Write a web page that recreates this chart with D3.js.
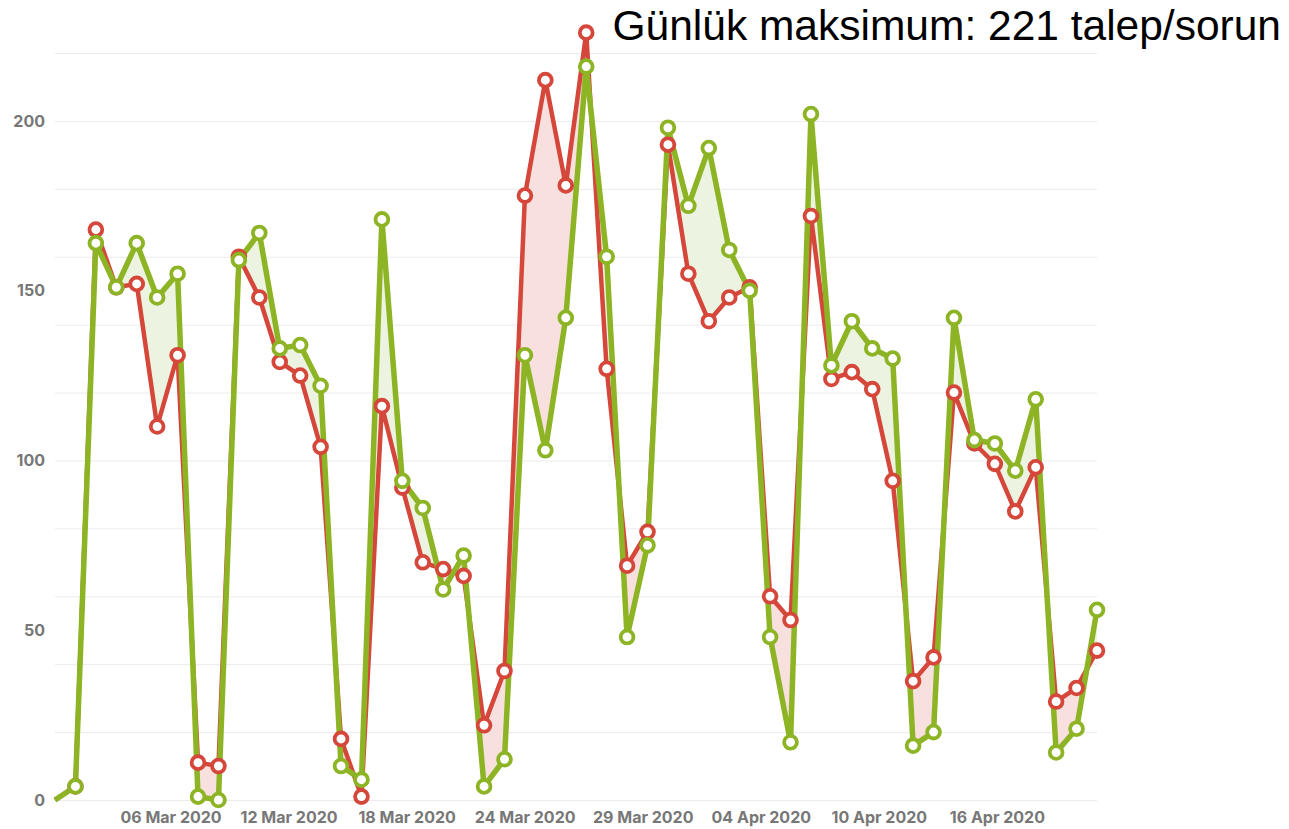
<!DOCTYPE html>
<html>
<head>
<meta charset="utf-8">
<script src="https://cdn.jsdelivr.net/npm/d3@7"></script>
<style>
  body { margin: 0; background: #fff; }
  svg { display: block; }
</style>
</head>
<body>
<svg id="chart" width="1289" height="829"></svg>
<script>
// daily series, 01 Mar 2020 .. 21 Apr 2020
const startDate = "2020-03-01";
const redValues = [0, 4, 168, 151, 152, 110, 131, 11, 10, 160, 148, 129, 125, 104, 18, 1, 116, 92, 70, 68,
  66, 22, 38, 178, 212, 181, 226, 127, 69, 79, 193, 155, 141, 148, 151, 60, 53, 172, 124, 126,
  121, 94, 35, 42, 120, 105, 99, 85, 98, 29, 33, 44];
const greenValues = [0, 4, 164, 151, 164, 148, 155, 1, 0, 159, 167, 133, 134, 122, 10, 6, 171, 94, 86, 62,
  72, 4, 12, 131, 103, 142, 216, 160, 48, 75, 198, 175, 192, 162, 150, 48, 17, 202, 128, 141,
  133, 130, 16, 20, 142, 106, 105, 97, 118, 14, 21, 56];
const xTickLabels = ["06 Mar 2020", "12 Mar 2020", "18 Mar 2020", "24 Mar 2020",
  "29 Mar 2020", "04 Apr 2020", "10 Apr 2020", "16 Apr 2020"];
const yTickLabels = [0, 50, 100, 150, 200];
const yGridValues = [0, 20, 40, 60, 80, 100, 120, 140, 160, 180, 200, 220];
const yMax = 220;
const titleText = "Günlük maksimum: 221 talep/sorun";

const RED = "#d5473a";
const GREEN = "#8db424";

const t0 = new Date(startDate + "T00:00:00Z");
const data = redValues.map((r, i) => ({
  date: d3.utcDay.offset(t0, i),
  red: r,
  green: greenValues[i]
}));

const svg = d3.select("#chart");
const plot = { left: 55, right: 1097, top: 53, bottom: 800 };

const x = d3.scaleUtc()
  .domain(d3.extent(data, d => d.date))
  .range([plot.left, plot.right]);

const y = d3.scaleLinear()
  .domain([0, yMax])
  .range([plot.bottom, plot.top]);

// grid
svg.append("g")
  .selectAll("line")
  .data(yGridValues)
  .enter().append("line")
  .attr("x1", plot.left)
  .attr("x2", plot.right)
  .attr("y1", d => y(d) + 0.5)
  .attr("y2", d => y(d) + 0.5)
  .attr("stroke", "#ebebeb")
  .attr("stroke-width", 1);

// y labels
svg.append("g")
  .selectAll("text")
  .data(yTickLabels)
  .enter().append("text")
  .attr("x", 45)
  .attr("y", d => y(d))
  .attr("dy", "0.36em")
  .attr("text-anchor", "end")
  .attr("font-family", "Inter, 'Liberation Sans', sans-serif")
  .attr("font-weight", 700)
  .attr("font-size", "16px")
  .attr("fill", "#777")
  .text(d => d);

// x labels, spread evenly over the time range like the original
const tickStep = data.length * 864e5 / (xTickLabels.length + 1);
svg.append("g")
  .selectAll("text")
  .data(xTickLabels)
  .enter().append("text")
  .attr("x", (d, k) => x(new Date(+t0 + (k + 1) * tickStep)) - 2)
  .attr("y", 823)
  .attr("text-anchor", "middle")
  .attr("font-family", "Inter, 'Liberation Sans', sans-serif")
  .attr("font-weight", 700)
  .attr("font-size", "16px")
  .attr("fill", "#777")
  .text(d => d);

// difference fill between the two lines
const defs = svg.append("defs");
defs.append("clipPath").attr("id", "clip-above")
  .append("path")
  .attr("d", d3.area().x(d => x(d.date)).y0(0).y1(d => y(d.red))(data));
defs.append("clipPath").attr("id", "clip-below")
  .append("path")
  .attr("d", d3.area().x(d => x(d.date)).y0(829).y1(d => y(d.red))(data));

const between = d3.area()
  .x(d => x(d.date))
  .y0(d => y(d.red))
  .y1(d => y(d.green));

svg.append("path")
  .datum(data)
  .attr("clip-path", "url(#clip-above)")
  .attr("fill", "#ecf3e0")
  .attr("d", between);

svg.append("path")
  .datum(data)
  .attr("clip-path", "url(#clip-below)")
  .attr("fill", "#f7e0de")
  .attr("d", between);

// lines
const lineRed = d3.line().x(d => x(d.date)).y(d => y(d.red));
const lineGreen = d3.line().x(d => x(d.date)).y(d => y(d.green));

svg.append("path")
  .datum(data)
  .attr("fill", "none")
  .attr("stroke", RED)
  .attr("stroke-width", 4.5)
  .attr("stroke-linejoin", "round")
  .attr("d", lineRed);

svg.append("path")
  .datum(data)
  .attr("fill", "none")
  .attr("stroke", GREEN)
  .attr("stroke-width", 5.5)
  .attr("stroke-linejoin", "round")
  .attr("d", lineGreen);

// markers (first day has none in the original)
const marked = data.slice(1);

svg.append("g")
  .selectAll("circle")
  .data(marked)
  .enter().append("circle")
  .attr("cx", d => x(d.date))
  .attr("cy", d => y(d.red))
  .attr("r", 6.4)
  .attr("fill", "#fff")
  .attr("stroke", RED)
  .attr("stroke-width", 3.8);

svg.append("g")
  .selectAll("circle")
  .data(marked)
  .enter().append("circle")
  .attr("cx", d => x(d.date))
  .attr("cy", d => y(d.green))
  .attr("r", 6.4)
  .attr("fill", "#fff")
  .attr("stroke", GREEN)
  .attr("stroke-width", 3.8);

// title
svg.append("text")
  .attr("x", 1281)
  .attr("y", 40)
  .attr("text-anchor", "end")
  .attr("font-family", "Arial, 'Liberation Sans', sans-serif")
  .attr("font-size", "42.5px")
  .attr("fill", "#000")
  .text(titleText);
</script>
</body>
</html>
